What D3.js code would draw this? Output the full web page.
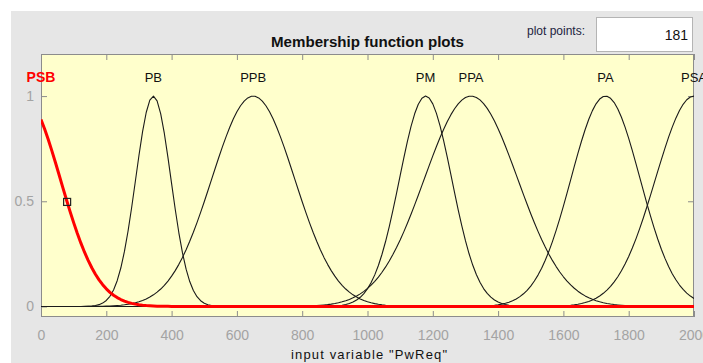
<!DOCTYPE html>
<html><head><meta charset="utf-8">
<script src="https://cdn.jsdelivr.net/npm/d3@7"></script>
<style>
html,body{margin:0;padding:0;background:#fff;}
svg{display:block;}
text{font-family:"Liberation Sans",Arial,sans-serif;}
</style></head>
<body>
<script>
// Membership functions (Gaussian): name, center, sigma
const mfNames   = ["PSB", "PB", "PPB", "PM", "PPA", "PA", "PSA"];
const mfCenters = [-56, 344, 650, 1178, 1317, 1729, 2000];
const mfSigmas  = [115, 54, 127, 80, 143, 106, 118];
const selectedMF = 0;
const xTicks = [0, 200, 400, 600, 800, 1000, 1200, 1400, 1600, 1800, 2000];
const yTicks = [0, 0.5, 1];
const plotPoints = 181;
const xRange = [0, 2000];

const W = 703, H = 363;
const svg = d3.select("body").append("svg").attr("width", W).attr("height", H);
svg.append("rect").attr("x", 11).attr("y", 11).attr("width", W - 11).attr("height", H - 11).attr("fill", "#e6e6e6");

const L = 41, R = 694, T = 54, B = 317;
const x = d3.scaleLinear().domain(xRange).range([L, R]);
const y = d3.scaleLinear().domain([-0.05, 1.2]).range([B, T]);

svg.append("defs").append("clipPath").attr("id", "plotclip")
  .append("rect").attr("x", L).attr("y", T).attr("width", R - L).attr("height", B - T);

svg.append("rect").attr("x", L).attr("y", T).attr("width", R - L).attr("height", B - T).attr("fill", "#ffffcc");

// plot points box
svg.append("text").attr("x", 585).attr("y", 35).attr("text-anchor", "end")
  .attr("font-size", 12).attr("fill", "#23233f").text("plot points:");
svg.append("rect").attr("x", 596.5).attr("y", 17.5).attr("width", 96).attr("height", 34)
  .attr("fill", "#fff").attr("stroke", "#b4b4b4");
svg.append("text").attr("x", 688).attr("y", 40).attr("text-anchor", "end")
  .attr("font-size", 14).attr("fill", "#111").text(String(plotPoints));

// title
svg.append("text").attr("x", (L + R) / 2).attr("y", 47).attr("text-anchor", "middle")
  .attr("font-size", 15).attr("font-weight", "bold").attr("fill", "#111")
  .attr("textLength", 193).attr("lengthAdjust", "spacingAndGlyphs").text("Membership function plots");

// axes
const gray = "#8c8c8c";
const axB = svg.append("g").attr("transform", `translate(0,${B})`)
  .call(d3.axisBottom(x).tickValues(xTicks).tickSize(-6).tickPadding(13).tickFormat(d3.format("d")));
const axT = svg.append("g").attr("transform", `translate(0,${T})`)
  .call(d3.axisTop(x).tickValues(xTicks).tickSize(-6).tickFormat(""));
const axL = svg.append("g").attr("transform", `translate(${L},0)`)
  .call(d3.axisLeft(y).tickValues(yTicks).tickSize(-6).tickPadding(7).tickFormat(d => d === 0.5 ? "0.5" : d3.format("d")(d)));
const axR = svg.append("g").attr("transform", `translate(${R},0)`)
  .call(d3.axisRight(y).tickValues(yTicks).tickSize(-6).tickFormat(""));
[axB, axT, axL, axR].forEach(g => {
  g.select(".domain").remove();
  g.selectAll("line").attr("stroke", gray);
  g.selectAll("text").attr("fill", "#a3a3a3").attr("font-size", 14).attr("font-family", "Liberation Sans, Arial, sans-serif");
});
svg.append("rect").attr("x", L + 0.5).attr("y", T + 0.5).attr("width", R - L - 1).attr("height", B - T - 1)
  .attr("fill", "none").attr("stroke", gray);

// curves
const xs = d3.range(plotPoints).map(i => xRange[0] + (xRange[1] - xRange[0]) * i / (plotPoints - 1));
const gauss = (v, c, s) => Math.exp(-((v - c) ** 2) / (2 * s * s));
const line = d3.line().x(d => x(d[0])).y(d => y(d[1]));
const plot = svg.append("g").attr("clip-path", "url(#plotclip)");
const order = mfNames.map((_, i) => i).filter(i => i !== selectedMF).concat([selectedMF]);
order.forEach(i => {
  const pts = xs.map(v => [v, gauss(v, mfCenters[i], mfSigmas[i])]);
  const sel = i === selectedMF;
  plot.append("path").attr("d", line(pts)).attr("fill", "none")
    .attr("stroke", sel ? "#ff0000" : "#1a1a1a").attr("stroke-width", sel ? 3 : 1.1)
    .attr("stroke-linejoin", "round");
});
// selected MF handle
const hx = 80, hy = gauss(hx, mfCenters[selectedMF], mfSigmas[selectedMF]);
plot.append("rect").attr("x", x(hx) - 3.5).attr("y", y(hy) - 3.5).attr("width", 7).attr("height", 7)
  .attr("fill", "none").attr("stroke", "#222").attr("stroke-width", 1.2);

// labels
mfNames.forEach((n, i) => {
  const sel = i === selectedMF;
  svg.append("text").attr("x", x(Math.max(xRange[0], Math.min(xRange[1], mfCenters[i])))).attr("y", 82)
    .attr("text-anchor", "middle").attr("font-size", sel ? 14 : 13)
    .attr("font-weight", sel ? "bold" : "normal")
    .attr("fill", sel ? "#ff0000" : "#111").text(n);
});

// x label
svg.append("text").attr("x", 369).attr("y", 359).attr("text-anchor", "middle")
  .attr("font-size", 13).attr("fill", "#111")
  .attr("textLength", 156).attr("lengthAdjust", "spacing").text('input variable "PwReq"');
</script>
</body></html>
